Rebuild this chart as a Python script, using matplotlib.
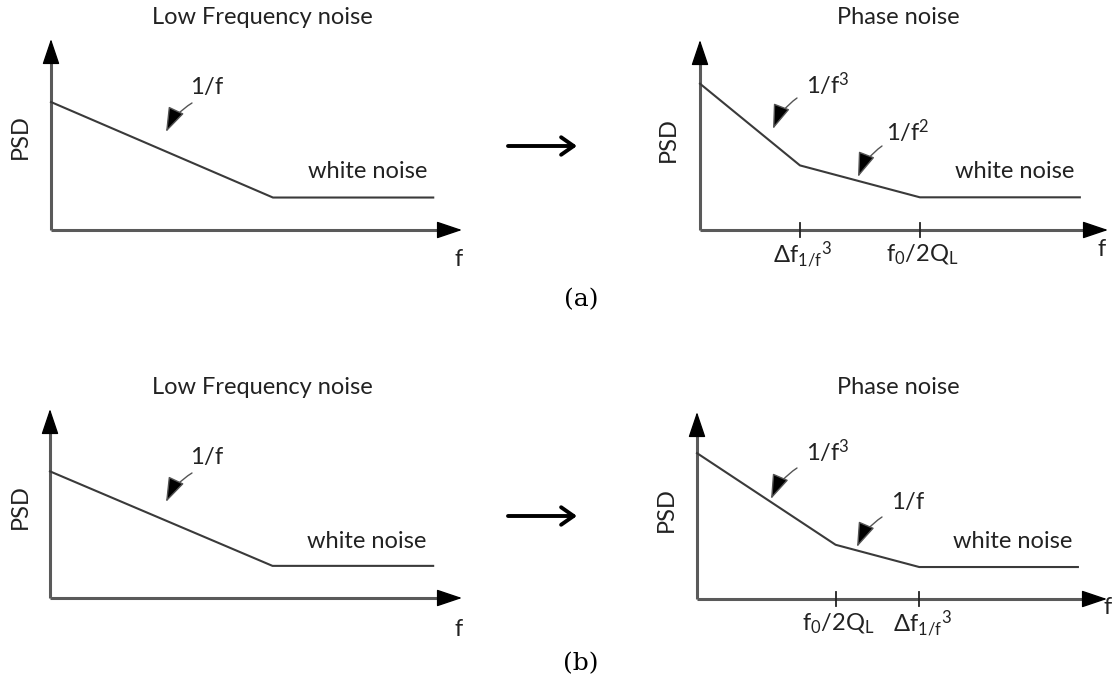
import matplotlib
matplotlib.use("Agg")
import matplotlib.pyplot as plt
from matplotlib.patches import ArrowStyle

plt.rcParams['font.family'] = ['Lato', 'DejaVu Sans']
plt.rcParams['mathtext.fontset'] = 'custom'
plt.rcParams['mathtext.rm'] = 'Lato'
plt.rcParams['mathtext.it'] = 'Lato:italic'
plt.rcParams['mathtext.bf'] = 'Lato:bold'

# Piecewise noise spectra (arbitrary units, axis arrow tips at 10)
lf_freq = [0.0, 5.4, 9.3]
lf_psd = [6.7, 1.7, 1.7]

pn_a_freq = [0.0, 2.45, 5.39, 9.31]
pn_a_psd = [7.7, 3.4, 1.72, 1.72]

pn_b_freq = [0.0, 3.38, 5.42, 9.29]
pn_b_psd = [7.8, 2.9, 1.71, 1.71]

tick_labels_a = [r'$\mathregular{\Delta f_{1/f}{}^{3}}$', r'$\mathregular{f_0/2Q_L}$']
tick_labels_b = [r'$\mathregular{f_0/2Q_L}$', r'$\mathregular{\Delta f_{1/f}{}^{3}}$']

lf_title = 'Low Frequency noise'
pn_title = 'Phase noise'
slope_labels_a = [r'$\mathregular{1/f^3}$', r'$\mathregular{1/f^2}$']
slope_labels_b = [r'$\mathregular{1/f^3}$', r'$\mathregular{1/f}$']

W, H = 1117, 689
fig = plt.figure(figsize=(W / 100, H / 100), dpi=100)
fig.patch.set_facecolor('white')

# Overlay in pixel units for labels and connectors
ov = fig.add_axes([0, 0, 1, 1])
ov.set_xlim(0, W)
ov.set_ylim(H, 0)
ov.axis('off')

TXT = '#222222'
AXC = '#5a5a5a'
LINEC = '#3a3a3a'
FS = 17


def draw_panel(box, freq, psd, ticks=None, tick_labels=None):
    x0, y0, x1, y1 = box
    ax = fig.add_axes([x0 / W, 1 - y0 / H, (x1 - x0) / W, (y0 - y1) / H])
    ax.set_xlim(0, 10)
    ax.set_ylim(0, 10)
    ax.axis('off')
    hx = 22 / (x1 - x0) * 10
    hy = 22 / (y0 - y1) * 10
    ax.plot([0, 10 - hx], [0, 0], color=AXC, lw=2.2, clip_on=False,
            solid_capstyle='butt')
    ax.plot([0, 0], [0, 10 - hy], color=AXC, lw=2.2, clip_on=False,
            solid_capstyle='butt')
    head = ArrowStyle('-|>', head_length=0.8, head_width=0.27)
    ax.annotate('', xy=(10, 0), xytext=(10 - hx, 0),
                arrowprops=dict(arrowstyle=head, mutation_scale=20,
                                color='black', lw=1, shrinkA=0, shrinkB=0))
    ax.annotate('', xy=(0, 10), xytext=(0, 10 - hy),
                arrowprops=dict(arrowstyle=head, mutation_scale=20,
                                color='black', lw=1, shrinkA=0, shrinkB=0))
    ax.plot(freq, psd, color=LINEC, lw=1.5, clip_on=False)
    if ticks is not None:
        ty = 7 / (y0 - y1) * 10
        for t, lab in zip(ticks, tick_labels):
            ax.plot([t, t], [-ty, ty], color='#222222', lw=1.3, clip_on=False)
            ax.annotate(lab, xy=(t, 0), xytext=(2, -18),
                        textcoords='offset points', ha='center', va='center',
                        fontsize=FS, color=TXT)
    return ax


def pointer(tail, tip):
    ov.annotate('', xy=tip, xytext=tail,
                arrowprops=dict(arrowstyle=ArrowStyle('-|>', head_length=1.1,
                                                      head_width=0.38),
                                mutation_scale=14,
                                connectionstyle='arc3,rad=0.15',
                                lw=1.0, ec='#555555', fc='black',
                                shrinkA=0, shrinkB=0))


def txt(x, y, s, **kw):
    kw.setdefault('ha', 'center')
    kw.setdefault('va', 'center')
    kw.setdefault('fontsize', FS)
    kw.setdefault('color', TXT)
    ov.text(x, y, s, **kw)


def flow_arrow(y):
    ov.annotate('', xy=(577, y), xytext=(508, y),
                arrowprops=dict(arrowstyle=ArrowStyle('->', head_length=0.5,
                                                      head_width=0.35),
                                mutation_scale=18, lw=2.8, color='black',
                                shrinkA=0, shrinkB=0))


# ---- (a) ----
draw_panel((51, 230, 462, 39), lf_freq, lf_psd)
txt(262, 18, lf_title)
txt(20, 137, 'PSD', rotation=90)
txt(459, 260, 'f')
txt(207, 87, r'$\mathregular{1/f}$')
pointer((192, 103), (166, 132))
txt(368, 171, 'white noise')

draw_panel((700, 230, 1108, 40), pn_a_freq, pn_a_psd,
           ticks=pn_a_freq[1:3], tick_labels=tick_labels_a)
txt(898, 18, pn_title)
txt(668, 140, 'PSD', rotation=90)
txt(1102, 250, 'f')
txt(806, 84, slope_labels_a[0], ha='left')
pointer((797, 98), (773, 129))
txt(886, 131, slope_labels_a[1], ha='left')
pointer((882, 146), (858, 177))
txt(1015, 171, 'white noise')

flow_arrow(146)
txt(581, 300, '(a)', family='DejaVu Serif', fontsize=18, color='black')

# ---- (b) ----
draw_panel((50, 598, 462, 409), lf_freq, lf_psd)
txt(262, 388, lf_title)
txt(20, 507, 'PSD', rotation=90)
txt(459, 630, 'f')
txt(207, 457, r'$\mathregular{1/f}$')
pointer((192, 473), (166, 502))
txt(367, 541, 'white noise')

draw_panel((697, 599, 1107, 412), pn_b_freq, pn_b_psd,
           ticks=pn_b_freq[1:3], tick_labels=tick_labels_b)
txt(898, 388, pn_title)
txt(666, 510, 'PSD', rotation=90)
txt(1108, 608, 'f')
txt(806, 451, slope_labels_b[0], ha='left')
pointer((797, 468), (771, 499))
txt(891, 502, slope_labels_b[1], ha='left')
pointer((882, 517), (857, 547))
txt(1013, 541, 'white noise')

flow_arrow(516)
txt(581, 664, '(b)', family='DejaVu Serif', fontsize=18, color='black')

fig.savefig('out.png', dpi=100, facecolor='white')
